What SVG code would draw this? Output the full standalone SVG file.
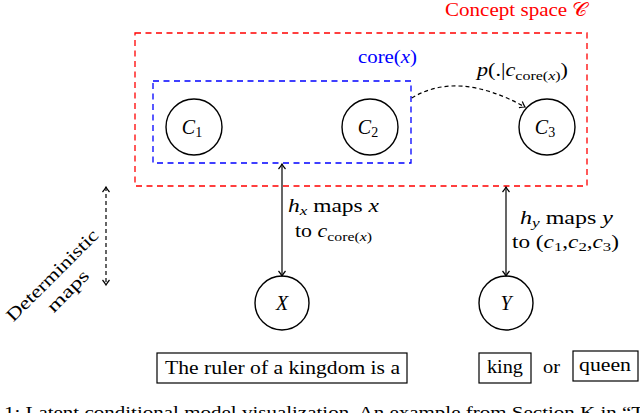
<svg xmlns="http://www.w3.org/2000/svg" width="640" height="413" viewBox="0 0 640 413">
<style>
text{font-family:"Liberation Serif","DejaVu Serif",serif;fill:#000}
.m{font-style:italic}
.node{fill:#fff;stroke:#000;stroke-width:1.4}
.box{fill:#fff;stroke:#000;stroke-width:1.2}
.red{fill:none;stroke:#f00;stroke-width:1.3;stroke-dasharray:6 4.5}
.blue{fill:none;stroke:#00f;stroke-width:1.3;stroke-dasharray:6 4.5}
.conn{fill:none;stroke:#000;stroke-width:1.2}
.dash{stroke-dasharray:4 3}
</style>
<defs>
<marker id="ah" markerUnits="userSpaceOnUse" markerWidth="12" markerHeight="12" viewBox="-6 -6 12 12" refX="0" refY="0" orient="auto-start-reverse">
<path d="M-5,-3.5 Q-2,-1 0,0 Q-2,1 -5,3.5" fill="none" stroke="#000" stroke-width="1.2"/>
</marker>
</defs>

<g id="concept-space">
<rect class="red" x="135" y="33" width="452" height="153"/>
<text x="445" y="15.5" font-size="19" textLength="143" lengthAdjust="spacingAndGlyphs" style="fill:#f00">Concept space 𝒞</text>
</g>
<g id="core">
<rect class="blue" x="153" y="81" width="258" height="82"/>
<text x="358" y="63" font-size="19" textLength="59" lengthAdjust="spacingAndGlyphs" style="fill:#00f">core(<tspan class="m" style="fill:#00f">x</tspan>)</text>
</g>

<g id="C1"><circle class="node" cx="194" cy="127" r="28"/><text x="192" y="134" text-anchor="middle" font-size="20"><tspan class="m">C</tspan><tspan font-size="14" dy="3">1</tspan></text></g>
<g id="C2"><circle class="node" cx="370" cy="127" r="28"/><text x="368" y="134" text-anchor="middle" font-size="20"><tspan class="m">C</tspan><tspan font-size="14" dy="3">2</tspan></text></g>
<g id="C3"><circle class="node" cx="547" cy="127" r="28"/><text x="545" y="134" text-anchor="middle" font-size="20"><tspan class="m">C</tspan><tspan font-size="14" dy="3">3</tspan></text></g>

<g id="X"><circle class="node" cx="282" cy="303" r="27"/><text x="282" y="310" text-anchor="middle" font-size="20" class="m">X</text></g>
<g id="Y"><circle class="node" cx="506" cy="303" r="27"/><text x="506" y="310" text-anchor="middle" font-size="20" class="m">Y</text></g>

<g id="prompt"><rect class="box" x="157" y="353" width="250" height="30"/><text x="165" y="374" font-size="19" textLength="235" lengthAdjust="spacingAndGlyphs">The ruler of a kingdom is a</text></g>
<g id="king"><rect class="box" x="479" y="353" width="52" height="30"/><text x="487" y="373" font-size="19" textLength="36" lengthAdjust="spacingAndGlyphs">king</text></g>
<text x="543" y="373" font-size="19" textLength="17" lengthAdjust="spacingAndGlyphs">or</text>
<g id="queen"><rect class="box" x="573" y="351" width="65" height="30"/><text x="579" y="371" font-size="19" textLength="52" lengthAdjust="spacingAndGlyphs">queen</text></g>

<g id="connectors">
<path class="conn dash" d="M411.7,98 Q458,70 525,107" marker-end="url(#ah)"/>
<line class="conn" x1="282" y1="164" x2="282" y2="276" marker-start="url(#ah)" marker-end="url(#ah)"/>
<line class="conn" x1="506" y1="187" x2="506" y2="276" marker-start="url(#ah)" marker-end="url(#ah)"/>
<line class="conn dash" x1="106" y1="187" x2="106" y2="285" marker-start="url(#ah)" marker-end="url(#ah)"/>
</g>

<g id="labels">
<text x="477" y="76" font-size="18" textLength="91" lengthAdjust="spacingAndGlyphs"><tspan class="m">p</tspan>(.|<tspan class="m">c</tspan><tspan font-size="13" dy="4">core(<tspan class="m">x</tspan>)</tspan><tspan dy="-4">)</tspan></text>
<text x="288" y="212" font-size="18" textLength="91" lengthAdjust="spacingAndGlyphs"><tspan class="m">h</tspan><tspan class="m" font-size="13" dy="3">x</tspan><tspan dy="-3"> maps </tspan><tspan class="m">x</tspan></text>
<text x="295" y="237" font-size="18" textLength="77" lengthAdjust="spacingAndGlyphs">to <tspan class="m">c</tspan><tspan font-size="13" dy="4">core(<tspan class="m">x</tspan>)</tspan></text>
<text x="520" y="224" font-size="18" textLength="93" lengthAdjust="spacingAndGlyphs"><tspan class="m">h</tspan><tspan class="m" font-size="13" dy="3">y</tspan><tspan dy="-3"> maps </tspan><tspan class="m">y</tspan></text>
<text x="512" y="248" font-size="18" textLength="107" lengthAdjust="spacingAndGlyphs">to (<tspan class="m">c</tspan><tspan font-size="13" dy="3">1</tspan><tspan dy="-3">,</tspan><tspan class="m">c</tspan><tspan font-size="13" dy="3">2</tspan><tspan dy="-3">,</tspan><tspan class="m">c</tspan><tspan font-size="13" dy="3">3</tspan><tspan dy="-3">)</tspan></text>
<g transform="translate(60,283) rotate(-45)">
<text x="-61" y="-5" font-size="18" textLength="122" lengthAdjust="spacingAndGlyphs">Deterministic</text>
<text x="-26" y="17" font-size="18" textLength="52" lengthAdjust="spacingAndGlyphs">maps</text>
</g>
</g>

<text x="4" y="418" font-size="17" textLength="660" lengthAdjust="spacingAndGlyphs">1: Latent conditional model visualization. An example from Section K in “The</text>
</svg>
